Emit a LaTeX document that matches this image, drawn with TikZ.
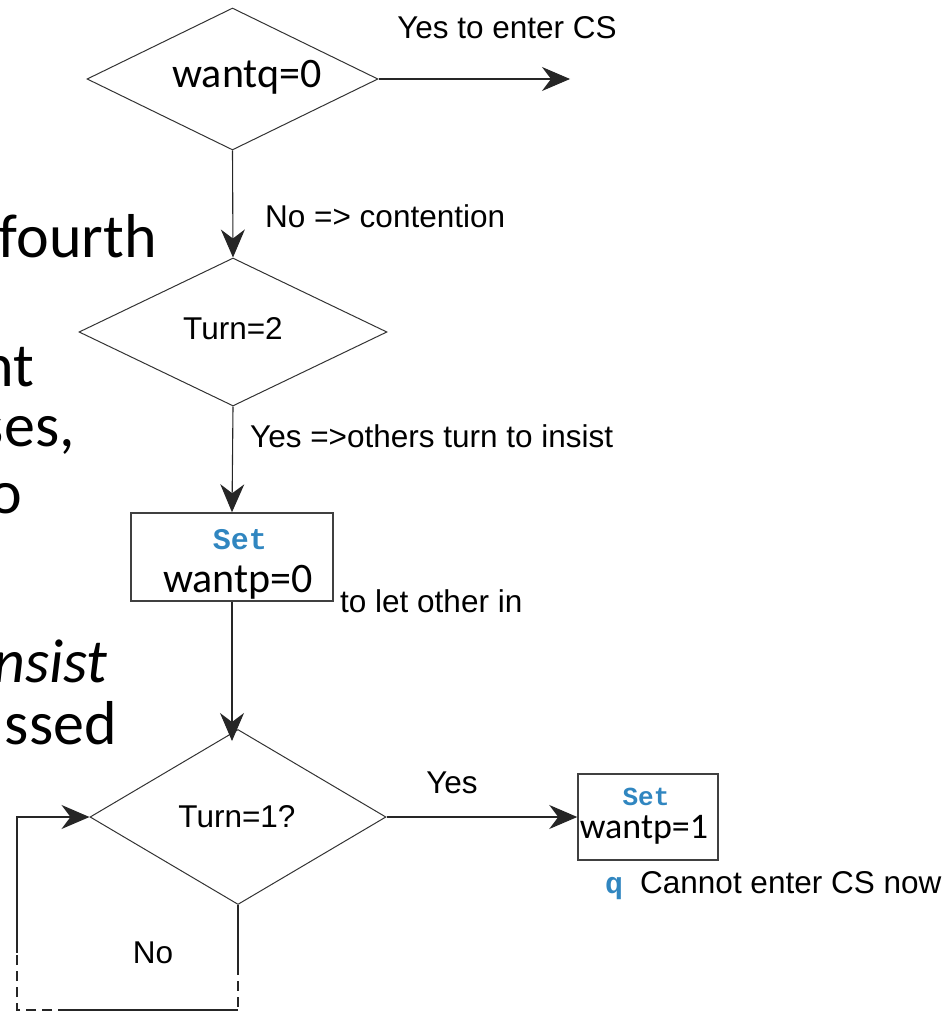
\documentclass[tikz,border=0pt]{standalone}
\usepackage{fontspec}
\usetikzlibrary{shapes.geometric,arrows.meta}
\setmainfont{Liberation Sans}
\newfontfamily\calfont{Carlito}
\newfontfamily\arlfont{Liberation Sans}
\newfontfamily\monofont{Liberation Mono}
\definecolor{setblue}{RGB}{48,134,192}
\tikzset{
  line/.style={draw=black!85, line width=1.1pt},
  arr/.style={line, -{Stealth[length=28pt,width=24pt,inset=9pt]}},
  brokenline/.style={line, dash pattern=on 10pt off 6pt},
  dia/.style={diamond, draw=black!80, line width=1pt, inner sep=0pt, aspect=2},
  stepbox/.style={rectangle, draw=black!75, line width=1.5pt, inner sep=0pt},
  lab/.style={font=\arlfont\fontsize{31.5}{34}\selectfont, inner sep=0pt},
  var/.style={inner sep=0pt, text=black},
  code/.style={font=\monofont\bfseries\fontsize{30}{32}\selectfont, text=setblue, inner sep=0pt},
  slide/.style={font=\calfont\fontsize{62}{64}\selectfont, inner sep=0pt, anchor=base east},
}
\begin{document}
\begin{tikzpicture}[x=1pt, y=-1pt]
\useasboundingbox (0,0) rectangle (949,1016);
\clip (0,0) rectangle (949,1016);

% slide text partly hidden behind the flowchart
\node[slide] (w1) at (157,258) {fourth};
\node[slide] (w2) at (34,386) {nt};
\node[slide] (w3) at (75,446) {ses,};
\node[slide] (w4) at (22,513) {o};
\node[slide, font=\calfont\itshape\fontsize{62}{64}\selectfont] (w5) at (108,682) {nsist};
\node[slide] (w6) at (117,744) {ssed};

% decisions
\node[dia, minimum width=291pt, minimum height=142pt] (d1) at (232.5,79) {};
\node[var, anchor=base, font=\calfont\fontsize{42}{44}\selectfont] (t1) at (247,88) {wantq=0};

\node[dia, minimum width=308pt, minimum height=148pt] (d2) at (233,332) {};
\node[lab, anchor=base] (t2) at (233,339) {Turn=2};

\node[dia, minimum width=296pt, minimum height=175pt] (d3) at (238,817) {};
\node[lab, anchor=base] (t3) at (237,827) {Turn=1?};

% actions
\node[stepbox, minimum width=202pt, minimum height=88pt] (b1) at (232,557) {};
\node[code, anchor=base] (s1) at (240,549) {Set};
\node[var, anchor=base, font=\calfont\fontsize{42}{44}\selectfont] (v1) at (238,592) {wantp=0};

\node[stepbox, minimum width=140pt, minimum height=86pt] (b2) at (648,817) {};
\node[code, anchor=base, font=\monofont\bfseries\fontsize{26}{28}\selectfont] (s2) at (646,805) {Set};
\node[var, anchor=base, font=\calfont\fontsize{36}{38}\selectfont] (v2) at (644,838) {wantp=1};

% edge labels
\node[lab, anchor=base] (l1) at (507,39) {Yes to enter CS};
\node[lab, anchor=base west] (l2) at (265,227) {No => contention};
\node[lab, anchor=base west] (l3) at (250,447) {Yes =>others turn to insist};
\node[lab, anchor=base west] (l4) at (340,612) {to let other in};
\node[lab, anchor=base] (l5) at (452,793) {Yes};
\node[lab, anchor=base] (l6) at (153,963) {No};
\node[code, anchor=base] (q) at (614,893) {q};
\node[lab, anchor=base west] (l7) at (640,893) {Cannot enter CS now};

% connectors
\coordinate (cs) at (570,79);
\draw[arr] (d1.east) -- (cs);
\draw[arr] (d1.south) -- (d2.north);
\draw[arr] (d2.south) -- (b1.north);
\draw[arr] (b1.south) -- ([yshift=-12pt]b1.south |- d3.north);
\draw[arr] (d3.east) -- (b2.west);

% loop back when it is not our turn
\coordinate (r1) at (238,965);
\coordinate (r2) at (238,1013);
\coordinate (h1) at (238,1010);
\coordinate (h2) at (68,1010);
\coordinate (h3) at (17,1010);
\coordinate (u1) at (17,953);
\coordinate (u2) at (17,817);
\draw[line] (d3.south) -- (r1);
\draw[brokenline] (r1) -- (r2);
\draw[line] (h1) -- (h2);
\draw[brokenline] (h2) -- (h3) -- (u1);
\draw[arr] (u1) -- (u2) -- (d3.west);
\end{tikzpicture}
\end{document}
